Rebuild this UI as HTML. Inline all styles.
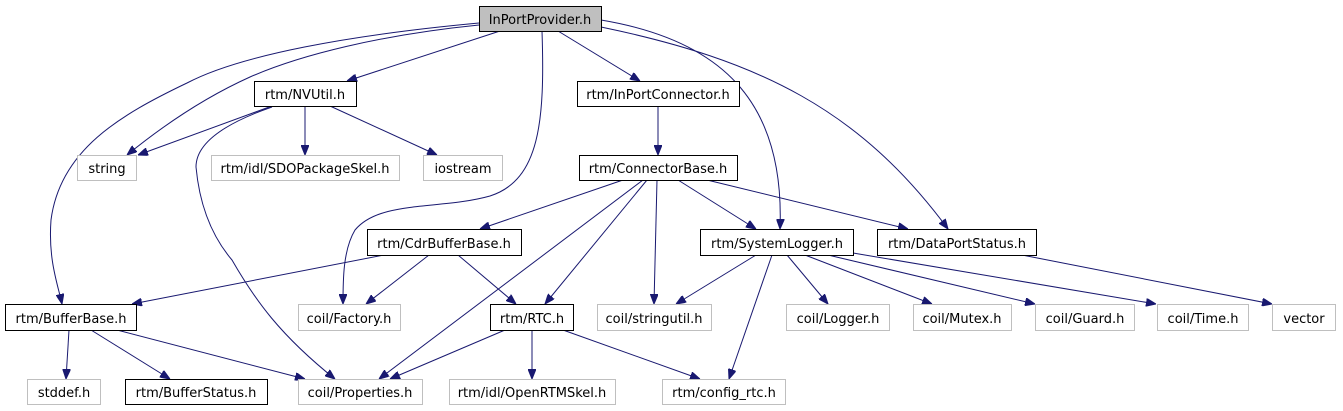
<!DOCTYPE html>
<html><head><meta charset="utf-8"><style>
html,body{margin:0;padding:0;background:#fff;}
svg{display:block;}
text{font-family:"DejaVu Sans","Liberation Sans",sans-serif;font-size:13px;fill:#000;}
.b{fill:#fff;stroke:#000;stroke-width:1;}
.g{fill:#fff;stroke:#bfbfbf;stroke-width:1;}
.e{fill:none;stroke:#191970;stroke-width:1;}
</style></head><body>
<svg width="1343" height="411" viewBox="0 0 1343 411" xmlns="http://www.w3.org/2000/svg">
<defs><marker id="a" markerWidth="10" markerHeight="8" refX="10" refY="4" orient="auto" markerUnits="userSpaceOnUse"><path d="M0,0 L10,4 L0,8 z" fill="#191970" stroke="#191970"/></marker></defs>
<g class="e" marker-end="url(#a)">
<path d="M500,31 L347,81"/>
<path d="M558,31 L640,81"/>
<path d="M479,25 C380,35 300,55 250,77 C210,95 170,120 127,155"/>
<path d="M479,23 C350,35 240,55 187,83 C120,115 60,150 51,220 C48,260 58,285 62,304"/>
<path d="M542,31 C545,120 540,180 490,196 C440,210 380,200 355,230 C343,250 343,280 343,304"/>
<path d="M601,20 C720,40 785,100 780,229"/>
<path d="M601,27 C760,60 860,110 948,229"/>
<path d="M272,106 L138,155"/>
<path d="M305,106 L305,155"/>
<path d="M330,106 L437,155"/>
<path d="M272,107 C220,125 196,145 196,167 C200,210 215,240 232,260 C255,300 280,335 335,379"/>
<path d="M658,106 L658,155"/>
<path d="M623,180 L480,229"/>
<path d="M643,180 L379,379"/>
<path d="M647,180 L545,304"/>
<path d="M657,180 L654,304"/>
<path d="M678,180 L756,229"/>
<path d="M707,180 L908,229"/>
<path d="M384,255 L132,304"/>
<path d="M429,255 L366,304"/>
<path d="M458,255 L516,304"/>
<path d="M756,255 L676,304"/>
<path d="M772,255 L729,379"/>
<path d="M787,255 L828,304"/>
<path d="M805,255 L932,304"/>
<path d="M828,255 L1035,304"/>
<path d="M853,253 L1156,304"/>
<path d="M1022,255 L1272,304"/>
<path d="M69,330 L66,379"/>
<path d="M91,330 L170,379"/>
<path d="M117,330 L305,379"/>
<path d="M505,330 L390,379"/>
<path d="M532,330 L532,379"/>
<path d="M563,330 L700,379"/>
</g>
<g text-anchor="middle">
<rect x="479.5" y="6.5" width="122" height="25" fill="#bfbfbf" stroke="#000"/><text x="540" y="24">InPortProvider.h</text>
<rect class="b" x="254.5" y="81.5" width="102" height="25"/><text x="305" y="99">rtm/NVUtil.h</text>
<rect class="b" x="577.5" y="81.5" width="162" height="25"/><text x="658" y="99">rtm/InPortConnector.h</text>
<rect class="g" x="77.5" y="155.5" width="59" height="25"/><text x="107" y="173">string</text>
<rect class="g" x="211.5" y="155.5" width="188" height="25"/><text x="305" y="173">rtm/idl/SDOPackageSkel.h</text>
<rect class="g" x="423.5" y="155.5" width="79" height="25"/><text x="463" y="173">iostream</text>
<rect class="b" x="579.5" y="155.5" width="158" height="25"/><text x="658" y="173">rtm/ConnectorBase.h</text>
<rect class="b" x="367.5" y="229.5" width="154" height="26"/><text x="444" y="248">rtm/CdrBufferBase.h</text>
<rect class="b" x="700.5" y="229.5" width="153" height="26"/><text x="777" y="248">rtm/SystemLogger.h</text>
<rect class="b" x="877.5" y="229.5" width="159" height="26"/><text x="957" y="248">rtm/DataPortStatus.h</text>
<rect class="b" x="5.5" y="304.5" width="131" height="26"/><text x="71" y="323">rtm/BufferBase.h</text>
<rect class="g" x="298.5" y="304.5" width="102" height="26"/><text x="349" y="323">coil/Factory.h</text>
<rect class="b" x="490.5" y="304.5" width="83" height="26"/><text x="532" y="323">rtm/RTC.h</text>
<rect class="g" x="597.5" y="304.5" width="114" height="26"/><text x="654" y="323">coil/stringutil.h</text>
<rect class="g" x="786.5" y="304.5" width="103" height="26"/><text x="838" y="323">coil/Logger.h</text>
<rect class="g" x="913.5" y="304.5" width="98" height="26"/><text x="962" y="323">coil/Mutex.h</text>
<rect class="g" x="1035.5" y="304.5" width="99" height="26"/><text x="1085" y="323">coil/Guard.h</text>
<rect class="g" x="1157.5" y="304.5" width="91" height="26"/><text x="1203" y="323">coil/Time.h</text>
<rect class="g" x="1272.5" y="304.5" width="63" height="26"/><text x="1304" y="323">vector</text>
<rect class="g" x="27.5" y="379.5" width="73" height="25"/><text x="64" y="397">stddef.h</text>
<rect class="b" x="125.5" y="379.5" width="142" height="25"/><text x="196" y="397">rtm/BufferStatus.h</text>
<rect class="g" x="298.5" y="379.5" width="124" height="25"/><text x="360" y="397">coil/Properties.h</text>
<rect class="g" x="449.5" y="379.5" width="166" height="25"/><text x="532" y="397">rtm/idl/OpenRTMSkel.h</text>
<rect class="g" x="662.5" y="379.5" width="123" height="25"/><text x="724" y="397">rtm/config_rtc.h</text>
</g>
</svg>
</body></html>
